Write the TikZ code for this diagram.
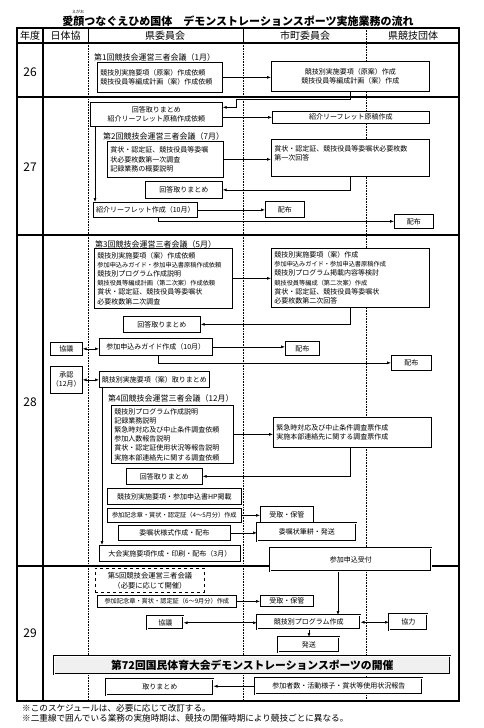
\documentclass[tikz,border=0pt]{standalone}
\usepackage{fontspec}
\setmainfont{Noto Sans CJK JP}
\usetikzlibrary{arrows.meta,positioning}

\begin{document}
\begin{tikzpicture}[
    x=1pt, y=-1pt,
    every node/.style={font=\fontsize{7}{9.2}\selectfont, inner sep=0pt},
    box/.style={draw, line width=0.7pt, anchor=north west, align=center, fill=white},
    lbox/.style={box, align=left, inner xsep=3pt},
    dbox/.style={draw, double, double distance=1.1pt, line width=0.5pt, anchor=north west, align=center, fill=white},
    dashbox/.style={box, dashed, line width=0.9pt, font=\fontsize{7.3}{10}\selectfont},
    heading/.style={anchor=west, font=\fontsize{8}{9}\selectfont},
    smalltext/.style={font=\fontsize{6.2}{8}\selectfont},
    flow/.style={-{Latex[length=4pt,width=3pt]}, line width=0.6pt},
    twoway/.style={{Latex[length=4pt,width=3pt]}-{Latex[length=4pt,width=3pt]}, line width=0.6pt},
    rule/.style={line width=1.1pt},
    lane/.style={line width=0.6pt, densely dotted}
]
\useasboundingbox (0,0) rectangle (484,728);

% title
\node[font=\bfseries\fontsize{11}{13}\selectfont] (title) at (238,21) {愛顔つなぐえひめ国体　デモンストレーションスポーツ実施業務の流れ};
\node[font=\fontsize{4}{4}\selectfont] (ruby) at (78,12) {えがお};

% table frame
\draw[lane] (88,43) -- (88,701);
\draw[lane] (243,43) -- (243,701);
\draw[lane] (366,28) -- (366,701);
\draw[line width=0.6pt] (88,28) -- (88,43);
\draw[line width=0.6pt] (243,28) -- (243,43);
\draw[rule] (43,28) -- (43,701);
\draw[rule] (17,43) -- (459,43);
\draw[rule] (17,97) -- (459,97);
\draw[rule] (17,235) -- (459,235);
\draw[rule] (17,566) -- (459,566);
\draw[line width=1.4pt] (17,28) rectangle (459,701);

\node[font=\fontsize{10}{12}\selectfont] (hyear) at (30,36) {年度};
\node[font=\fontsize{10}{12}\selectfont] (hjsa) at (65.5,36) {日体協};
\node[font=\fontsize{10}{12}\selectfont] (hpref) at (165,36) {県委員会};
\node[font=\fontsize{10}{12}\selectfont] (hcity) at (305,36) {市町委員会};
\node[font=\fontsize{10}{12}\selectfont] (hsport) at (413,36) {県競技団体};

\node[font=\fontsize{12}{14}\selectfont] (y26) at (30,72) {26};
\node[font=\fontsize{12}{14}\selectfont] (y27) at (30,167) {27};
\node[font=\fontsize{12}{14}\selectfont] (y28) at (30,402) {28};
\node[font=\fontsize{12}{14}\selectfont] (y29) at (30,633) {29};

\coordinate (back) at (350,0);

% 26
\node[heading] (meet1) at (94,57) {第1回競技会運営三者会議（1月）};
\node[lbox, text width=119pt, minimum height=30pt] (req1) at (97,62) {競技別実施要項（原案）作成依頼\\競技役員等編成計画（案）作成依頼};
\node[box, minimum width=158pt, minimum height=30pt] (city1) at (271,61) {競技別実施要項（原案）作成\\競技役員等編成計画（案）作成};

% 27
\node[box, minimum width=132pt, minimum height=24pt] (sum1) at (90,102) {回答取りまとめ\\紹介リーフレット原稿作成依頼};
\node[box, minimum width=157pt, minimum height=12pt] (city2) at (272,111) {紹介リーフレット原稿作成};
\node[heading] (meet2) at (103,136) {第2回競技会運営三者会議（7月）};
\node[lbox, text width=110pt, minimum height=36pt] (req2) at (107,141) {賞状・認定証、競技役員等委嘱\\状必要枚数第一次調査\\記録業務の概要説明};
\node[lbox, text width=152pt, minimum height=37pt] (city3) at (271,139) {賞状・認定証、競技役員等委嘱状必要枚数\\第一次回答\\\mbox{}};
\node[box, minimum width=77pt, minimum height=17pt] (sum2) at (145,181) {回答取りまとめ};
\node[box, minimum width=104pt, minimum height=15pt] (leaf) at (93,202) {紹介リーフレット作成（10月）};
\node[box, minimum width=39pt, minimum height=16pt] (dist1) at (265,201) {配布};
\node[box, minimum width=39pt, minimum height=14pt] (dist2) at (394,214) {配布};

% 28
\node[heading] (meet3) at (95,244) {第3回競技会運営三者会議（5月）};
\node[lbox, text width=132pt, minimum height=60pt] (req3) at (94,248) {競技別実施要項（案）作成依頼\\{\fontsize{6.2}{9.2}\selectfont 参加申込みガイド・参加申込書原稿作成依頼}\\競技別プログラム作成説明\\{\fontsize{6.2}{9.2}\selectfont 競技役員等編成計画（第二次案）作成依頼}\\賞状・認定証、競技役員等委嘱状\\必要枚数第二次調査};
\node[lbox, text width=152pt, minimum height=59pt] (city4) at (271,248) {競技別実施要項（案）作成\\{\fontsize{6.2}{9.2}\selectfont 参加申込みガイド・参加申込書原稿作成}\\競技別プログラム掲載内容等検討\\{\fontsize{6.2}{9.2}\selectfont 競技役員等編成（第二次案）作成}\\賞状・認定証、競技役員等委嘱状\\必要枚数第二次回答};
\node[box, minimum width=77pt, minimum height=16pt] (sum3) at (123,316) {回答取りまとめ};
\node[box, minimum width=32pt, minimum height=13pt] (talk1) at (50,342) {協議};
\node[box, minimum width=113pt, minimum height=17pt] (guide) at (99,338) {参加申込みガイド作成（10月）};
\node[box, minimum width=34pt, minimum height=14pt] (dist3) at (285,341) {配布};
\node[box, minimum width=40pt, minimum height=15pt] (dist4) at (391,355) {配布};
\node[box, minimum width=32pt, minimum height=27pt] (approve) at (50,366) {承認\\（12月）};
\node[box, minimum width=110pt, minimum height=16pt] (rules) at (99,371) {競技別実施要項（案）取りまとめ};
\node[heading] (meet4) at (108,398) {第4回競技会運営三者会議（12月）};
\node[lbox, text width=116pt, minimum height=58pt] (req4) at (111,405) {競技別プログラム作成説明\\記録業務説明\\緊急時対応及び中止条件調査依頼\\参加人数報告説明\\賞状・認定証使用状況等報告説明\\実施本部連絡先に関する調査依頼};
\node[lbox, text width=152pt, minimum height=30pt] (city5) at (273,417) {緊急時対応及び中止条件調査票作成\\実施本部連絡先に関する調査票作成};
\node[box, minimum width=76pt, minimum height=16pt] (sum4) at (126,468) {回答取りまとめ};
\node[box, minimum width=134pt, minimum height=16pt] (web) at (107,488) {競技別実施要項・参加申込書HP掲載};
\node[box, smalltext, minimum width=134pt, minimum height=14pt] (medal1) at (107,508) {参加記念章・賞状・認定証（4～5月分）作成};
\node[box, minimum width=112pt, minimum height=15pt] (form) at (118,525) {委嘱状様式作成・配布};
\node[box, minimum width=141pt, minimum height=16pt] (outline) at (99,545) {大会実施要項作成・印刷・配布（3月）};
\node[box, minimum width=53pt, minimum height=16pt] (keep1) at (260,506) {受取・保管};
\node[dbox, minimum width=99pt, minimum height=18pt] (write) at (257,523) {委嘱状筆耕・発送};
\node[dbox, minimum width=161pt, minimum height=23pt] (entry) at (270,548) {参加申込受付};

% 29
\node[dashbox, minimum width=109pt, minimum height=24pt] (meet5) at (95,568) {第5回競技会運営三者会議\\（必要に応じて開催）};
\node[box, smalltext, minimum width=139pt, minimum height=12pt] (medal2) at (97,595) {参加記念章・賞状・認定証（6～9月分）作成};
\node[box, minimum width=53pt, minimum height=11pt] (keep2) at (260,595) {受取・保管};
\node[dbox, minimum width=36pt, minimum height=13pt] (talk2) at (147,616) {協議};
\node[dbox, minimum width=103pt, minimum height=14pt] (prog) at (257,615) {競技別プログラム作成};
\node[dbox, minimum width=38pt, minimum height=16pt] (help) at (389,614) {協力};
\node[dbox, minimum width=61pt, minimum height=15pt] (send) at (278,637) {発送};
\node[dbox, fill=gray!12, minimum width=396pt, minimum height=18pt, font=\bfseries\fontsize{10.8}{12}\selectfont] (games) at (54,656) {第72回国民体育大会デモンストレーションスポーツの開催};
\node[dbox, minimum width=107pt, minimum height=16pt] (sum5) at (106,679) {取りまとめ};
\node[dbox, minimum width=167pt, minimum height=16pt] (report) at (255,678) {参加者数・活動様子・賞状等使用状況報告};

% notes
\node[anchor=west, font=\fontsize{8.6}{10}\selectfont] (note1) at (22,708) {※このスケジュールは、必要に応じて改訂する。};
\node[anchor=west, font=\fontsize{8.6}{10}\selectfont] (note2) at (22,718) {※二重線で囲んでいる業務の実施時期は、競技の開催時期により競技ごとに異なる。};

% connectors
\coordinate (k1) at (350,99);
\coordinate (k2) at (236,99);
\draw[flow] (req1.east) -- (req1.east -| city1.west);
\draw[flow] (city1.south -| k1) -- (k1) -- (k2) |- ([yshift=7pt]sum1.east);
\draw[flow] ([yshift=-3pt]sum1.east) -- ([yshift=-3pt]sum1.east -| city2.west);
\draw[flow] ([xshift=5pt]sum1.south west) -- ([xshift=5pt]sum1.south west |- leaf.north);
\draw[flow] (req2.east) -- (req2.east -| city3.west);
\draw[flow] (city3.south -| back) |- (sum2.east);
\draw[flow] (leaf.east) -- (leaf.east -| dist1.west);
\draw[flow] ([xshift=65pt]leaf.south west) |- (dist2.west);
\draw[flow] (req3.east) -- (req3.east -| city4.west);
\draw[flow] (city4.south -| back) |- (sum3.east);
\draw[twoway] (talk1.east) -- (talk1.east -| guide.west);
\draw[flow] (guide.east) -- (guide.east -| dist3.west);
\draw[flow] ([xshift=59pt]guide.south west) |- (dist4.west);
\draw[twoway] (approve.east) -- (approve.east -| rules.west);
\draw[flow] (req4.east) -- (req4.east -| city5.west);
\draw[flow] (city5.south -| back) |- (sum4.east);
\draw[flow] ([xshift=3pt]rules.south west) -- ([xshift=3pt]rules.south west |- outline.north);
\draw[flow] (medal1.east) -- (medal1.east -| keep1.west);
\draw[flow] (form.east) -- (form.east -| write.west);
\draw[flow] ([xshift=68pt]entry.south west) -- ([xshift=68pt]entry.south west |- prog.north);
\draw[flow] (medal2.east) -- (medal2.east -| keep2.west);
\draw[twoway] (talk2.east) -- (talk2.east -| prog.west);
\draw[twoway] (prog.east) -- (prog.east -| help.west);
\draw[flow] ([xshift=52pt]prog.south west) -- ([xshift=52pt]prog.south west |- send.north);
\draw[flow] (report.west) -- (report.west -| sum5.east);
\end{tikzpicture}
\end{document}
